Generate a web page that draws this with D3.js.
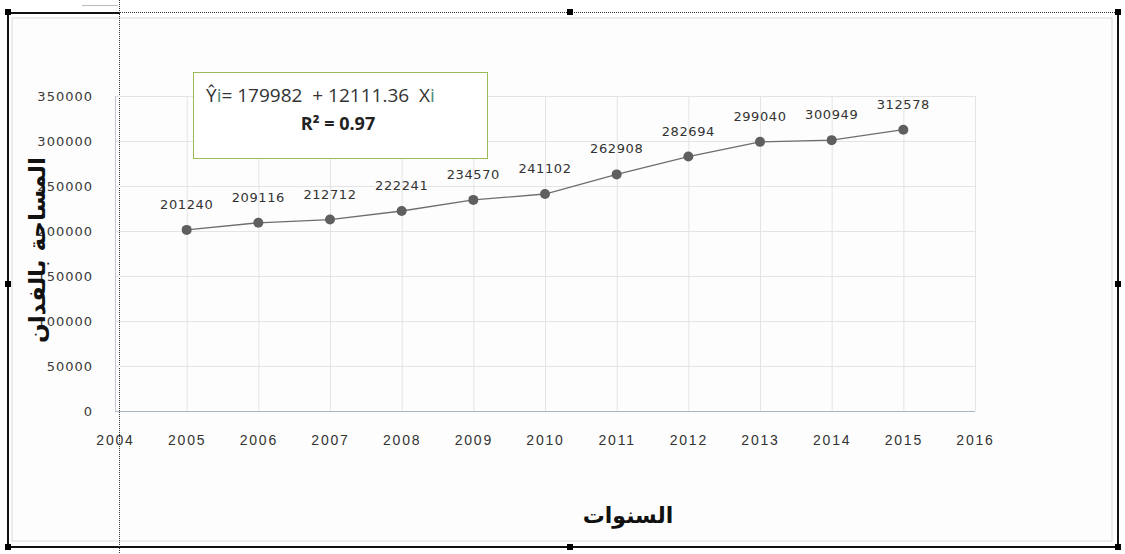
<!DOCTYPE html>
<html>
<head>
<meta charset="utf-8">
<script src="https://cdn.jsdelivr.net/npm/d3@7"></script>
<style>
  body { margin: 0; background: #fff; }
  svg { display: block; }
</style>
</head>
<body>
<script>
// data
var years = [2005, 2006, 2007, 2008, 2009, 2010, 2011, 2012, 2013, 2014, 2015]
var area = [201240, 209116, 212712, 222241, 234570, 241102, 262908, 282694, 299040, 300949, 312578]
var xTicks = [2004, 2005, 2006, 2007, 2008, 2009, 2010, 2011, 2012, 2013, 2014, 2015, 2016]
var yTicks = [0, 50000, 100000, 150000, 200000, 250000, 300000, 350000]
var eqParts = [["Ŷ", "#333"], ["i", "#4a8a78"], ["= 179982  + 12111.36  X", "#333"], ["i", "#4a8a78"]]
var r2Text = "R² = 0.97"
var xTitle = "السنوات"
var yTitle = "المساحة بالفدان"

var W = 1125, H = 554
var plot = {left: 115, right: 975, top: 96, bottom: 411}

var svg = d3.select("body").append("svg")
    .attr("width", W)
    .attr("height", H)

// page frame (the selected chart object look)
svg.append("rect")
    .attr("x", 12).attr("y", 18).attr("width", 1100).attr("height", 523)
    .attr("fill", "#fdfdfd").attr("stroke", "#dadada")
svg.append("line")
    .attr("x1", 8).attr("x2", 8).attr("y1", 12).attr("y2", 548)
    .attr("stroke", "#111").attr("stroke-width", 2)
svg.append("line")
    .attr("x1", 8).attr("x2", 1118).attr("y1", 547).attr("y2", 547)
    .attr("stroke", "#111").attr("stroke-width", 2)
svg.append("line")
    .attr("x1", 1118).attr("x2", 1118).attr("y1", 12).attr("y2", 548)
    .attr("stroke", "#111").attr("stroke-width", 2)
svg.append("line")
    .attr("x1", 8).attr("x2", 120).attr("y1", 13).attr("y2", 13)
    .attr("stroke", "#111").attr("stroke-width", 2)
svg.append("line")
    .attr("x1", 120).attr("x2", 1118).attr("y1", 12.5).attr("y2", 12.5)
    .attr("stroke", "#333").attr("stroke-dasharray", "1,1")
svg.append("line")
    .attr("x1", 82).attr("x2", 118).attr("y1", 5.5).attr("y2", 5.5)
    .attr("stroke", "#bbb")
svg.append("line")
    .attr("x1", 119.5).attr("x2", 119.5).attr("y1", 0).attr("y2", H)
    .attr("stroke", "#333").attr("stroke-dasharray", "1,1")

var handles = [[8, 12], [570, 12], [1118, 12], [8, 284], [1118, 284], [8, 547], [570, 547], [1118, 547]]
svg.selectAll(".handle")
    .data(handles)
  .enter().append("rect")
    .attr("class", "handle")
    .attr("x", function(d) { return d[0] - 3 })
    .attr("y", function(d) { return d[1] - 3 })
    .attr("width", 6).attr("height", 6)
    .attr("fill", "#000")

var x = d3.scaleLinear().domain([2004, 2016]).range([plot.left, plot.right])
var y = d3.scaleLinear().domain([0, 350000]).range([plot.bottom, plot.top])

// gridlines
svg.append("g")
    .attr("transform", "translate(0," + plot.bottom + ")")
    .call(d3.axisBottom(x).tickValues(xTicks.slice(1)).tickSize(-(plot.bottom - plot.top)).tickFormat(""))
    .call(function(g) { g.select(".domain").remove() })
    .selectAll("line").attr("stroke", "#e4e4e4")

svg.append("g")
    .attr("transform", "translate(" + plot.left + ",0)")
    .call(d3.axisLeft(y).tickValues(yTicks.slice(1)).tickSize(-(plot.right - plot.left)).tickFormat(""))
    .call(function(g) { g.select(".domain").remove() })
    .selectAll("line").attr("stroke", "#e4e4e4")

// axis lines
svg.append("line")
    .attr("x1", plot.left).attr("x2", plot.right)
    .attr("y1", y(0) + 0.5).attr("y2", y(0) + 0.5)
    .attr("stroke", "#aab4c4")
svg.append("line")
    .attr("x1", plot.left + 0.5).attr("x2", plot.left + 0.5)
    .attr("y1", plot.top).attr("y2", plot.bottom)
    .attr("stroke", "#c4cad2")

// tick labels
var xAxis = svg.append("g")
    .attr("transform", "translate(0," + plot.bottom + ")")
    .call(d3.axisBottom(x).tickValues(xTicks).tickSize(0).tickPadding(24).tickFormat(d3.format("d")))
xAxis.select(".domain").remove()
xAxis.selectAll("text")
    .attr("font-family", "Liberation Sans, Arial, sans-serif")
    .attr("font-size", 14)
    .attr("letter-spacing", 1.8)
    .attr("fill", "#333")

var yAxis = svg.append("g")
    .attr("transform", "translate(" + (plot.left - 22) + ",0)")
    .call(d3.axisLeft(y).tickValues(yTicks).tickSize(0).tickPadding(0).tickFormat(d3.format("d")))
yAxis.select(".domain").remove()
yAxis.selectAll("text")
    .attr("font-family", "DejaVu Sans, sans-serif")
    .attr("font-size", 13)
    .attr("letter-spacing", 1)
    .attr("fill", "#3a3a3a")

// series line + markers
var line = d3.line()
    .x(function(d, i) { return x(years[i]) })
    .y(function(d) { return y(d) })

svg.append("path")
    .datum(area)
    .attr("d", line)
    .attr("fill", "none")
    .attr("stroke", "#6d6d6d")
    .attr("stroke-width", 1.3)

svg.selectAll(".dot")
    .data(area)
  .enter().append("circle")
    .attr("class", "dot")
    .attr("cx", function(d, i) { return x(years[i]) })
    .attr("cy", function(d) { return y(d) })
    .attr("r", 5)
    .attr("fill", "#5f5f5f")

svg.selectAll(".val")
    .data(area)
  .enter().append("text")
    .attr("class", "val")
    .attr("x", function(d, i) { return x(years[i]) })
    .attr("y", function(d) { return y(d) - 21 })
    .attr("text-anchor", "middle")
    .attr("font-family", "DejaVu Sans, sans-serif")
    .attr("font-size", 13)
    .attr("letter-spacing", 0.6)
    .attr("fill", "#333")
    .text(function(d) { return d })

// equation box
svg.append("rect")
    .attr("x", 193.5).attr("y", 72.5).attr("width", 294).attr("height", 86)
    .attr("fill", "#fff").attr("stroke", "#9bbb59")
var eq = svg.append("text")
    .attr("x", 206).attr("y", 102)
    .attr("font-family", "Open Sans, sans-serif")
    .attr("font-size", 19)
    .style("white-space", "pre")
eq.selectAll("tspan")
    .data(eqParts)
  .enter().append("tspan")
    .attr("fill", function(d) { return d[1] })
    .text(function(d) { return d[0] })
svg.append("text")
    .attr("x", 338).attr("y", 130)
    .attr("text-anchor", "middle")
    .attr("font-family", "Open Sans, sans-serif")
    .attr("font-weight", "bold")
    .attr("font-size", 18)
    .attr("fill", "#222")
    .text(r2Text)

// axis titles
svg.append("text")
    .attr("x", 628).attr("y", 523)
    .attr("text-anchor", "middle")
    .attr("font-family", "DejaVu Sans, sans-serif")
    .attr("font-weight", "bold")
    .attr("font-size", 22)
    .attr("fill", "#111")
    .text(xTitle)

svg.append("text")
    .attr("transform", "translate(45,250) rotate(-90)")
    .attr("text-anchor", "middle")
    .attr("font-family", "DejaVu Sans, sans-serif")
    .attr("font-weight", "bold")
    .attr("font-size", 23)
    .attr("fill", "#111")
    .text(yTitle)
</script>
</body>
</html>
